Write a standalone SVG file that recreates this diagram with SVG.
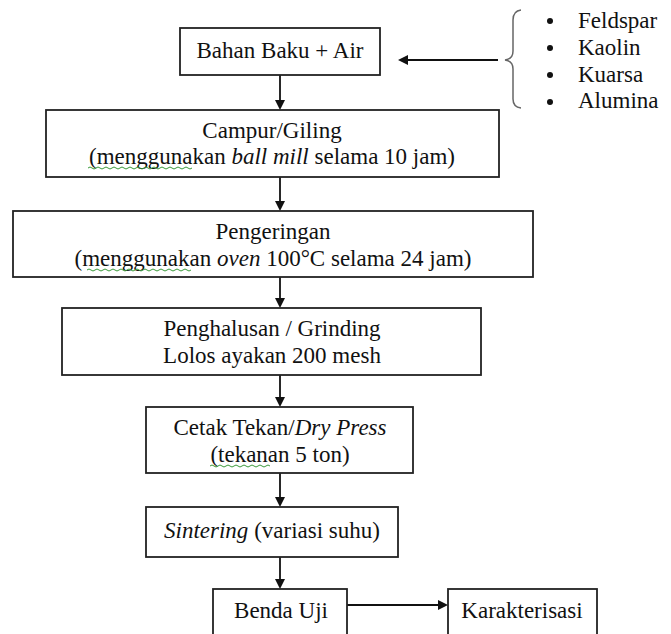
<svg xmlns="http://www.w3.org/2000/svg" width="671" height="634" viewBox="0 0 671 634">
<defs>
<style>
.box{fill:#fff;stroke:#222;stroke-width:1.8}
.c{stroke:#111;stroke-width:1.8;fill:none}
.h{fill:#111}
.w{stroke:#3a9a3a;stroke-width:1;fill:none}
</style>
</defs>
<g id="connectors">
<line class="c" x1="498" y1="60" x2="405" y2="60"/><polygon class="h" points="398,60 408,55 408,65"/>
<line class="c" x1="280" y1="75" x2="280" y2="103"/><polygon class="h" points="280,110 275,100 285,100"/>
<line class="c" x1="280" y1="177" x2="280" y2="204"/><polygon class="h" points="280,211 275,201 285,201"/>
<line class="c" x1="280" y1="277" x2="280" y2="301"/><polygon class="h" points="280,308 275,298 285,298"/>
<line class="c" x1="280" y1="375" x2="280" y2="400"/><polygon class="h" points="280,407 275,397 285,397"/>
<line class="c" x1="280" y1="473" x2="280" y2="500"/><polygon class="h" points="280,507 275,497 285,497"/>
<line class="c" x1="280" y1="557" x2="280" y2="582"/><polygon class="h" points="280,589 275,579 285,579"/>
<line class="c" x1="347" y1="605" x2="441" y2="605"/><polygon class="h" points="448,605 438,600 438,610"/>
</g>
<g id="materials">
<path d="M521,10 Q513,11 513,20 L513,51 Q513,59 505,60 Q513,61 513,69 L513,99 Q513,107 521,108" fill="none" stroke="#666" stroke-width="1.5"/>
<circle cx="550" cy="21" r="3" fill="#111"/>
<circle cx="550" cy="48" r="3" fill="#111"/>
<circle cx="550" cy="75" r="3" fill="#111"/>
<circle cx="550" cy="102" r="3" fill="#111"/>
<text font-family="Liberation Serif, DejaVu Serif, serif" font-size="23" fill="#111" x="578" y="28">Feldspar</text>
<text font-family="Liberation Serif, DejaVu Serif, serif" font-size="23" fill="#111" x="578" y="55">Kaolin</text>
<text font-family="Liberation Serif, DejaVu Serif, serif" font-size="23" fill="#111" x="578" y="82">Kuarsa</text>
<text font-family="Liberation Serif, DejaVu Serif, serif" font-size="23" fill="#111" x="578" y="108">Alumina</text>
</g>
<g id="bahan">
<rect class="box" x="180" y="28" width="200" height="47"/>
<text font-family="Liberation Serif, DejaVu Serif, serif" font-size="23" fill="#111" text-anchor="middle" x="280" y="58">Bahan Baku + Air</text>
</g>
<g id="campur">
<rect class="box" x="46" y="110" width="453" height="67"/>
<text font-family="Liberation Serif, DejaVu Serif, serif" font-size="23" fill="#111" text-anchor="middle" x="272" y="138">Campur/Giling</text>
<text font-family="Liberation Serif, DejaVu Serif, serif" font-size="23" fill="#111" text-anchor="middle" x="272" y="164">(menggunakan <tspan font-style="italic">ball mill</tspan> selama 10 jam)</text>
<path class="w" d="M88,168 q2,-2 4,0 t4,0 t4,0 t4,0 t4,0 t4,0 t4,0 t4,0 t4,0 t4,0 t4,0 t4,0 t4,0 t4,0 t4,0 t4,0 t4,0 t4,0 t4,0 t4,0 t4,0 t4,0 t4,0 t4,0 t4,0 t4,0"/>
</g>
<g id="pengeringan">
<rect class="box" x="13" y="211" width="520" height="66"/>
<text font-family="Liberation Serif, DejaVu Serif, serif" font-size="23" fill="#111" text-anchor="middle" x="273" y="239">Pengeringan</text>
<text font-family="Liberation Serif, DejaVu Serif, serif" font-size="23" fill="#111" text-anchor="middle" x="273" y="266">(menggunakan <tspan font-style="italic">oven</tspan> 100°C selama 24 jam)</text>
<path class="w" d="M87,270 q2,-2 4,0 t4,0 t4,0 t4,0 t4,0 t4,0 t4,0 t4,0 t4,0 t4,0 t4,0 t4,0 t4,0 t4,0 t4,0 t4,0 t4,0 t4,0 t4,0 t4,0 t4,0 t4,0 t4,0 t4,0 t4,0 t4,0"/>
</g>
<g id="penghalusan">
<rect class="box" x="62" y="308" width="419" height="67"/>
<text font-family="Liberation Serif, DejaVu Serif, serif" font-size="23" fill="#111" text-anchor="middle" x="272" y="336">Penghalusan / Grinding</text>
<text font-family="Liberation Serif, DejaVu Serif, serif" font-size="23" fill="#111" text-anchor="middle" x="272" y="363">Lolos ayakan 200 mesh</text>
</g>
<g id="cetak">
<rect class="box" x="146" y="407" width="267" height="66"/>
<text font-family="Liberation Serif, DejaVu Serif, serif" font-size="23" fill="#111" text-anchor="middle" x="280" y="435">Cetak Tekan/<tspan font-style="italic">Dry Press</tspan></text>
<text font-family="Liberation Serif, DejaVu Serif, serif" font-size="23" fill="#111" text-anchor="middle" x="280" y="462">(tekanan 5 ton)</text>
<path class="w" d="M210,466 q2,-2 4,0 t4,0 t4,0 t4,0 t4,0 t4,0 t4,0 t4,0 t4,0 t4,0 t4,0 t4,0 t4,0 t4,0 t4,0"/>
</g>
<g id="sintering">
<rect class="box" x="146" y="507" width="252" height="50"/>
<text font-family="Liberation Serif, DejaVu Serif, serif" font-size="23" fill="#111" text-anchor="middle" x="272" y="538"><tspan font-style="italic">Sintering</tspan> (variasi suhu)</text>
</g>
<g id="benda">
<rect class="box" x="213" y="589" width="134" height="60"/>
<text font-family="Liberation Serif, DejaVu Serif, serif" font-size="23" fill="#111" text-anchor="middle" x="281" y="618">Benda Uji</text>
</g>
<g id="karakterisasi">
<rect class="box" x="448" y="589" width="149" height="60"/>
<text font-family="Liberation Serif, DejaVu Serif, serif" font-size="23" fill="#111" text-anchor="middle" x="522" y="618">Karakterisasi</text>
</g>
</svg>
